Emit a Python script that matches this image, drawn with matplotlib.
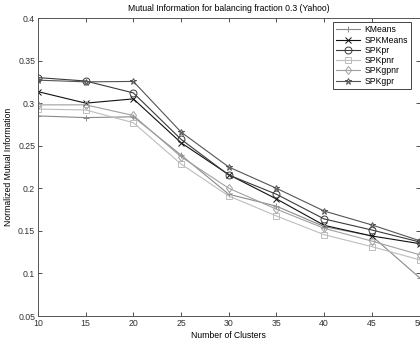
import matplotlib
matplotlib.use("Agg")
import matplotlib.pyplot as plt
from matplotlib.ticker import FixedLocator, FixedFormatter

plt.rcParams['font.family'] = ['Liberation Sans', 'DejaVu Sans']

clusters = [10, 15, 20, 25, 30, 35, 40, 45, 50]
kmeans = [0.285, 0.283, 0.284, 0.239, 0.193, 0.179, 0.155, 0.144, 0.095]
spkmeans = [0.3135, 0.300, 0.305, 0.2535, 0.216, 0.1875, 0.1565, 0.144, 0.135]
spkpr = [0.330, 0.326, 0.312, 0.2575, 0.2156, 0.193, 0.164, 0.151, 0.137]
spkpnr = [0.293, 0.292, 0.277, 0.2285, 0.191, 0.1675, 0.1455, 0.1315, 0.116]
spkgpnr = [0.298, 0.298, 0.2855, 0.237, 0.200, 0.1755, 0.153, 0.138, 0.122]
spkgpr = [0.327, 0.325, 0.3255, 0.266, 0.225, 0.200, 0.1733, 0.157, 0.1385]

names = ['KMeans', 'SPKMeans', 'SPKpr', 'SPKpnr', 'SPKgpnr', 'SPKgpr']
series = [kmeans, spkmeans, spkpr, spkpnr, spkgpnr, spkgpr]
markers = ['+', 'x', 'o', 's', 'd', '*']
msizes = [4.5, 4, 5, 4, 4.5, 4.5]
colors = ['#8a8a8a', '#101010', '#3a3a3a', '#bdbdbd', '#a0a0a0', '#555555']

fig = plt.figure(figsize=(4.2, 3.46), dpi=100)
ax = fig.add_axes([38 / 420, 30 / 346, 381.5 / 420, 298 / 346])

for name, vals, m, ms, c in zip(names, series, markers, msizes, colors):
    ax.plot(clusters, vals, color=c, marker=m, markersize=ms, linewidth=0.8,
            markerfacecolor='none', markeredgecolor=c, markeredgewidth=0.7,
            label=name)

ax.set_xlim(10, 50)
ax.set_ylim(0.05, 0.4)
ax.set_xticks(clusters)
yt = [0.05, 0.1, 0.15, 0.2, 0.25, 0.3, 0.35, 0.4]
ax.yaxis.set_major_locator(FixedLocator(yt))
ax.yaxis.set_major_formatter(FixedFormatter(['0.05', '0.1', '0.15', '0.2', '0.25', '0.3', '0.35', '0.4']))
ax.tick_params(direction='in', length=3, width=0.6, labelsize=6.3, top=True, right=True,
               colors='#333333', pad=2)
for s in ax.spines.values():
    s.set_linewidth(0.7)
    s.set_color('#555555')

ax.set_title('Mutual Information for balancing fraction 0.3 (Yahoo)', fontsize=6.2, pad=5)
ax.set_xlabel('Number of Clusters', fontsize=6.2, labelpad=2)
ax.set_ylabel('Normalized Mutual Information', fontsize=6.2, labelpad=4)

leg = ax.legend(loc='upper right', bbox_to_anchor=(410.7 / 420, (346 - 22.3) / 346),
                bbox_transform=fig.transFigure, fontsize=6.2,
                fancybox=False, framealpha=1, edgecolor='#444444',
                handlelength=2.8, handletextpad=0.5, borderpad=0.35,
                labelspacing=0.15, borderaxespad=0)
leg.get_frame().set_linewidth(0.7)

fig.savefig('out.png', dpi=100)
